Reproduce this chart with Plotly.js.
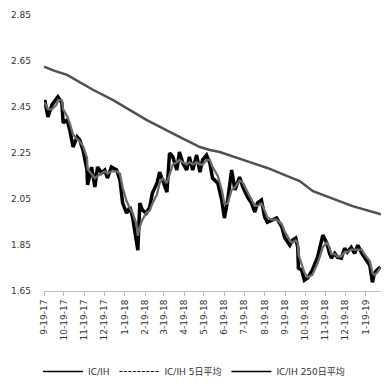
<!DOCTYPE html>
<html>
<head>
<meta charset="utf-8">
<script src="https://cdn.plot.ly/plotly-3.0.1.min.js"></script>
<style>html,body{margin:0;padding:0;background:#fff;}#chart{width:388px;height:387px;}</style>
</head>
<body>
<div id="chart"></div>
<script>
// IC/IH daily ratio
const dates = ["2017-09-20","2017-09-22","2017-09-25","2017-10-01","2017-10-08","2017-10-10","2017-10-16","2017-10-18","2017-10-24","2017-10-28",
"2017-11-02","2017-11-08","2017-11-12","2017-11-17","2017-11-23","2017-11-24","2017-11-30","2017-12-05","2017-12-09","2017-12-15",
"2017-12-20","2017-12-24","2017-12-30","2018-01-07","2018-01-12","2018-01-16","2018-01-22","2018-01-27","2018-01-31","2018-02-06",
"2018-02-08","2018-02-11","2018-02-15","2018-02-21","2018-02-26","2018-03-02","2018-03-09","2018-03-13","2018-03-18","2018-03-24",
"2018-03-28","2018-04-02","2018-04-08","2018-04-12","2018-04-17","2018-04-23","2018-04-27","2018-05-02","2018-05-08","2018-05-13",
"2018-05-17","2018-05-23","2018-05-28","2018-06-01","2018-06-09","2018-06-15","2018-06-19","2018-06-24","2018-06-30","2018-07-05",
"2018-07-12","2018-07-17","2018-07-24","2018-07-30","2018-08-04","2018-08-08","2018-08-14","2018-08-19","2018-08-23","2018-08-29",
"2018-09-06","2018-09-14","2018-09-18","2018-09-26","2018-09-30","2018-10-05","2018-10-08","2018-10-09","2018-10-14","2018-10-18",
"2018-10-23","2018-10-30","2018-11-07","2018-11-15","2018-11-21","2018-11-25","2018-11-28","2018-12-03","2018-12-07","2018-12-13",
"2018-12-18","2018-12-22","2018-12-28","2019-01-02","2019-01-07","2019-01-13","2019-01-17","2019-01-25","2019-01-29","2019-02-01",
"2019-02-05","2019-02-10"];
const ratio = [2.481,2.450,2.407,2.459,2.490,2.494,2.468,2.381,2.394,2.350,
2.276,2.320,2.307,2.263,2.176,2.111,2.189,2.102,2.189,2.163,
2.176,2.141,2.189,2.176,2.132,2.032,1.989,2.015,1.971,1.871,
1.827,2.032,2.002,1.989,2.015,2.076,2.119,2.167,2.132,2.080,
2.250,2.233,2.176,2.254,2.206,2.176,2.233,2.176,2.241,2.167,
2.220,2.241,2.206,2.141,2.119,2.045,1.967,2.045,2.176,2.089,
2.145,2.102,2.058,2.032,1.993,2.032,2.045,1.971,1.949,1.958,
1.967,1.928,1.884,1.849,1.871,1.880,1.840,1.749,1.741,1.697,
1.706,1.741,1.797,1.893,1.858,1.814,1.793,1.814,1.797,1.793,
1.836,1.819,1.840,1.814,1.849,1.814,1.797,1.762,1.688,1.727,
1.741,1.754];
// IC/IH 5-day average
const ma5 = [2.47,2.46,2.44,2.44,2.46,2.48,2.48,2.44,2.41,2.38,
2.33,2.31,2.30,2.28,2.23,2.18,2.16,2.14,2.15,2.16,
2.17,2.16,2.17,2.17,2.16,2.10,2.04,2.01,1.99,1.94,
1.89,1.93,1.96,1.99,2.00,2.03,2.07,2.12,2.14,2.12,
2.16,2.20,2.21,2.22,2.21,2.20,2.21,2.20,2.21,2.20,
2.20,2.22,2.22,2.19,2.15,2.09,2.03,2.03,2.09,2.10,
2.13,2.12,2.08,2.05,2.02,2.02,2.03,2.00,1.97,1.96,
1.96,1.94,1.91,1.87,1.86,1.87,1.86,1.81,1.77,1.73,
1.71,1.72,1.77,1.84,1.86,1.84,1.81,1.81,1.80,1.80,
1.82,1.82,1.83,1.83,1.83,1.83,1.81,1.78,1.73,1.72,
1.73,1.75];
// IC/IH 250-day average
const ma250Dates = ["2017-09-19","2017-10-05","2017-10-24","2017-11-12","2017-12-02","2018-01-01","2018-01-27","2018-02-21","2018-04-12","2018-05-13",
"2018-05-28","2018-06-12","2018-08-01","2018-08-23","2018-09-26","2018-10-11","2018-10-31","2018-11-30","2018-12-30","2019-02-11"];
const ma250 = [2.625,2.607,2.590,2.559,2.525,2.481,2.437,2.394,2.320,2.276,
2.263,2.254,2.206,2.185,2.145,2.128,2.084,2.050,2.019,1.984];

const tickDates = ["2017-09-19","2017-10-19","2017-11-19","2017-12-19","2018-01-19","2018-02-19","2018-03-19","2018-04-19","2018-05-19",
"2018-06-19","2018-07-19","2018-08-19","2018-09-19","2018-10-19","2018-11-19","2018-12-19","2019-01-19"];
const tickLabels = ["9-19-17","10-19-17","11-19-17","12-19-17","1-19-18","2-19-18","3-19-18","4-19-18","5-19-18",
"6-19-18","7-19-18","8-19-18","9-19-18","10-19-18","11-19-18","12-19-18","1-19-19"];
const yTicks = [1.65,1.85,2.05,2.25,2.45,2.65,2.85];
const names = ["IC/IH","IC/IH 5日平均","IC/IH 250日平均"];

const FONT = "DejaVu Sans, Noto Sans CJK SC, sans-serif";
const traces = [
  {x: ma250Dates, y: ma250, mode: "lines", line: {color: "#505050", width: 2.5}, showlegend: false, hoverinfo: "skip"},
  {x: dates, y: ratio, mode: "lines", line: {color: "#000000", width: 3.5}, showlegend: false},
  {x: dates, y: ma5, mode: "lines", line: {color: "#6b6b6b", width: 2.3}, showlegend: false},
  {x: [null], y: [null], mode: "lines", name: names[0], line: {color: "#000", width: 1.3}},
  {x: [null], y: [null], mode: "lines", name: names[1], line: {color: "#000", width: 1, dash: "3px,1.5px"}},
  {x: [null], y: [null], mode: "lines", name: names[2], line: {color: "#000", width: 1.3}}
];
const layout = {
  width: 388, height: 387,
  margin: {l: 44, r: 7, t: 15, b: 96},
  paper_bgcolor: "#fff", plot_bgcolor: "#fff",
  font: {family: FONT, size: 9, color: "#333"},
  xaxis: {
    type: "date", range: ["2017-09-19", "2019-02-11"],
    tickvals: tickDates, ticktext: tickLabels, tickangle: -90,
    showgrid: false, zeroline: false, showline: true, linecolor: "#bfbfbf", linewidth: 1,
    ticks: "outside", ticklen: 4, tickcolor: "#bfbfbf",
    tickfont: {family: FONT, size: 9, color: "#333"}
  },
  yaxis: {
    range: [1.65, 2.85], tickvals: yTicks, ticktext: yTicks.map(v => v.toFixed(2)),
    showgrid: false, zeroline: false, showline: false, ticks: "",
    ticklabelstandoff: 12,
    tickfont: {family: FONT, size: 9, color: "#333"}
  },
  showlegend: true,
  legend: {orientation: "h", xref: "container", yref: "container", x: 0.5, xanchor: "center", y: 0.04, yanchor: "middle",
    font: {family: FONT, size: 9, color: "#333"}, itemwidth: 40, tracegroupgap: 0}
};
Plotly.newPlot("chart", traces, layout, {displayModeBar: false, staticPlot: true});
</script>
</body>
</html>
